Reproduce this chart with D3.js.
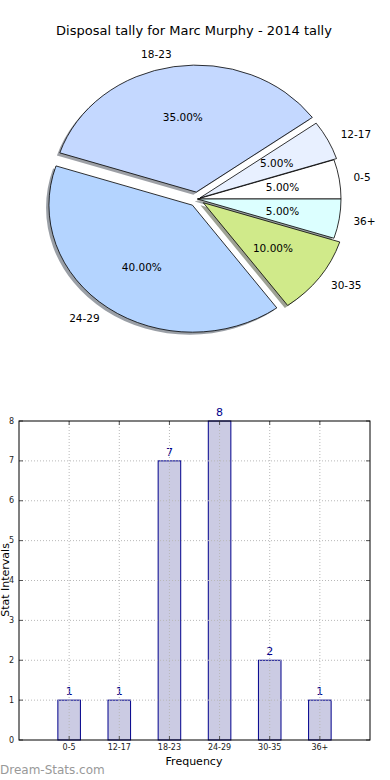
<!DOCTYPE html>
<html>
<head>
<meta charset="utf-8">
<script src="https://cdn.jsdelivr.net/npm/d3@7"></script>
<style>
  html, body { margin: 0; padding: 0; background: #fff; }
  svg { display: block; font-family: "DejaVu Sans", sans-serif; }
</style>
</head>
<body>
<svg id="chart" width="390" height="780"></svg>
<script>
// ---- data ----
const title = "Disposal tally for Marc Murphy - 2014 tally";
const categories = ["0-5", "12-17", "18-23", "24-29", "30-35", "36+"];
const counts = [1, 1, 7, 8, 2, 1];
const pieColors = ["#ffffff", "#e8f0ff", "#c4d8ff", "#b4d4ff", "#d0ea8a", "#dcffff"];
const explode = [0, 0.02, 0.055, 0.06, 0.05, 0];
const yTicks = [0, 1, 2, 3, 4, 5, 6, 7, 8];

const svg = d3.select("#chart");

// ---- title ----
svg.append("text").attr("x", 194).attr("y", 30)
  .attr("text-anchor", "middle").attr("dominant-baseline", "central")
  .attr("font-size", 13).attr("fill", "#000").text(title);

// ---- pie ----
const cx = 197.5, cy = 199, rx = 143.5, ry = 127;
const total = d3.sum(counts);
const pie = d3.pie().sort(null).value(d => d)
  .startAngle(Math.PI / 2).endAngle(Math.PI / 2 - 2 * Math.PI);
const arcs = pie(counts);
const unitArc = d3.arc().innerRadius(0).outerRadius(1);

function offset(a, dist) {
  const mid = (a.startAngle + a.endAngle) / 2;
  return [Math.sin(mid) * rx * dist, -Math.cos(mid) * ry * dist];
}

const gPie = svg.append("g");
arcs.forEach((a, i) => {
  const [ox, oy] = offset(a, explode[i]);
  const c = d3.rgb(pieColors[i]);
  const sc = d3.rgb(c.r * 0.3, c.g * 0.3, c.b * 0.3);
  gPie.append("path")
    .attr("d", unitArc(a))
    .attr("transform", `translate(${cx + ox - 0.02 * rx},${cy + oy + 0.02 * ry}) scale(${rx},${ry})`)
    .attr("fill", sc.toString()).attr("fill-opacity", 0.5);
});
arcs.forEach((a, i) => {
  const [ox, oy] = offset(a, explode[i]);
  gPie.append("path")
    .attr("d", unitArc(a))
    .attr("transform", `translate(${cx + ox},${cy + oy}) scale(${rx},${ry})`)
    .attr("fill", pieColors[i]).attr("stroke", "#000").attr("stroke-width", 0.8)
    .attr("vector-effect", "non-scaling-stroke");
});
arcs.forEach((a, i) => {
  const [ox, oy] = offset(a, explode[i]);
  const [lx, ly] = offset(a, 1.1);
  const [px, py] = offset(a, 0.6);
  gPie.append("text")
    .attr("x", cx + ox + lx).attr("y", cy + oy + ly)
    .attr("text-anchor", lx > 0 ? "start" : "end")
    .attr("dominant-baseline", "central")
    .attr("font-size", 10.5).attr("fill", "#000").text(categories[i]);
  gPie.append("text")
    .attr("x", cx + ox + px).attr("y", cy + oy + py)
    .attr("text-anchor", "middle").attr("dominant-baseline", "central")
    .attr("font-size", 10.5).attr("fill", "#000")
    .text((counts[i] / total * 100).toFixed(2) + "%");
});

// ---- bar chart ----
const pLeft = 19, pRight = 370, pTop = 421, pBottom = 740;
const x = d3.scaleLinear().domain([-1, 6]).range([pLeft, pRight]);
const y = d3.scaleLinear().domain([0, 8]).range([pBottom, pTop]);
const barW = x(0.45) - x(0);

const gBar = svg.append("g");
gBar.selectAll("rect.bar").data(counts).join("rect").attr("class", "bar")
  .attr("x", (d, i) => x(i) - barW / 2).attr("y", d => y(d))
  .attr("width", barW).attr("height", d => y(0) - y(d))
  .attr("fill", "#cbcbe3").attr("stroke", "#00008b").attr("stroke-width", 1);

const grid = svg.append("g").attr("stroke", "#b8b8b8").attr("stroke-width", 1)
  .attr("stroke-dasharray", "1,2");
categories.forEach((c, i) => {
  grid.append("line").attr("x1", x(i)).attr("x2", x(i)).attr("y1", pTop).attr("y2", pBottom);
});
yTicks.slice(1, -1).forEach(t => {
  grid.append("line").attr("x1", pLeft).attr("x2", pRight).attr("y1", y(t)).attr("y2", y(t));
});

const ticks = svg.append("g").attr("stroke", "#555").attr("stroke-width", 1);
categories.forEach((c, i) => {
  ticks.append("line").attr("x1", x(i)).attr("x2", x(i)).attr("y1", pBottom).attr("y2", pBottom - 4);
  ticks.append("line").attr("x1", x(i)).attr("x2", x(i)).attr("y1", pTop).attr("y2", pTop + 4);
});
yTicks.forEach(t => {
  ticks.append("line").attr("x1", pLeft).attr("x2", pLeft + 4).attr("y1", y(t)).attr("y2", y(t));
  ticks.append("line").attr("x1", pRight).attr("x2", pRight - 4).attr("y1", y(t)).attr("y2", y(t));
});

svg.append("rect").attr("x", pLeft).attr("y", pTop)
  .attr("width", pRight - pLeft).attr("height", pBottom - pTop)
  .attr("fill", "none").attr("stroke", "#000").attr("stroke-width", 1);

gBar.selectAll("text.val").data(counts).join("text").attr("class", "val")
  .attr("x", (d, i) => x(i)).attr("y", d => y(d) - 8.5)
  .attr("text-anchor", "middle").attr("dominant-baseline", "central")
  .attr("font-size", 11).attr("fill", "#00008b").text(d => d);

svg.append("g").selectAll("text").data(yTicks).join("text")
  .attr("x", 14).attr("y", d => y(d))
  .attr("text-anchor", "end").attr("dominant-baseline", "central")
  .attr("font-size", 8).attr("fill", "#222").text(d => d);
svg.append("g").selectAll("text").data(categories).join("text")
  .attr("x", (d, i) => x(i)).attr("y", 747)
  .attr("text-anchor", "middle").attr("dominant-baseline", "central")
  .attr("font-size", 8).attr("fill", "#222").text(d => d);

svg.append("text").attr("x", 194).attr("y", 761)
  .attr("text-anchor", "middle").attr("dominant-baseline", "central")
  .attr("font-size", 11).attr("fill", "#000").text("Frequency");
svg.append("text").attr("transform", "translate(5,580) rotate(-90)")
  .attr("text-anchor", "middle").attr("dominant-baseline", "central")
  .attr("font-size", 11).attr("fill", "#000").text("Stat Intervals");

svg.append("text").attr("x", 0).attr("y", 770)
  .attr("dominant-baseline", "central")
  .attr("font-size", 12).attr("fill", "#999").text("Dream-Stats.com");
</script>
</body>
</html>
